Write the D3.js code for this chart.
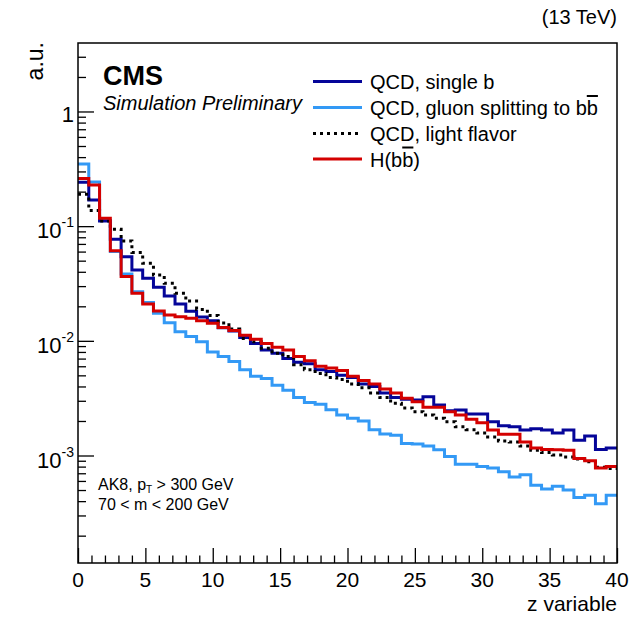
<!DOCTYPE html>
<html>
<head>
<meta charset="utf-8">
<script src="https://cdn.jsdelivr.net/npm/d3@7"></script>
<style>
  html, body { margin: 0; padding: 0; background: #fff; }
  svg { display: block; font-family: "Liberation Sans", Arial, Helvetica, sans-serif; }
</style>
</head>
<body>
<svg id="chart" width="630" height="617"></svg>
<script>
// ---------------- data ----------------
const binWidth = 0.8;
const xRange = [0, 40];
const yRange = [1.155e-4, 3.955];

const singleB = [
  0.241, 0.169, 0.111, 0.0768, 0.0542, 0.0415, 0.0351, 0.0293, 0.0246, 0.0210,
  0.0181, 0.0161, 0.0150, 0.0130, 0.0122, 0.0107, 0.0095, 0.0083, 0.0078, 0.0070,
  0.0065, 0.0063, 0.0056, 0.0054, 0.0050, 0.0048, 0.0042, 0.0040, 0.0035, 0.0032,
  0.0031, 0.00305, 0.00326, 0.00276, 0.00245, 0.00249, 0.0023, 0.0023, 0.00197, 0.00182,
  0.00178, 0.00167, 0.00171, 0.00167, 0.00157, 0.00167, 0.00136, 0.00148, 0.00113, 0.00116
];
const gluonSplitting = [
  0.348, 0.243, 0.112, 0.060, 0.0383, 0.0268, 0.0216, 0.0174, 0.0144, 0.0120,
  0.0109, 0.0098, 0.0080, 0.0073, 0.0066, 0.0056, 0.0049, 0.0047, 0.0041, 0.0037,
  0.0032, 0.0029, 0.0028, 0.0025, 0.00225, 0.00211, 0.0020, 0.00168, 0.00154, 0.0015,
  0.00127, 0.00126, 0.00121, 0.00112, 0.00098, 0.00084, 0.00084, 0.0008, 0.00078, 0.00072,
  0.00065, 0.00068, 0.00055, 0.00051, 0.00054, 0.0005, 0.00043, 0.00045, 0.00038, 0.00045
];
const lightFlavor = [
  0.190, 0.137, 0.111, 0.094, 0.0743, 0.059, 0.0474, 0.0375, 0.0317, 0.0260,
  0.0222, 0.0188, 0.0166, 0.0143, 0.0127, 0.0105, 0.0098, 0.0086, 0.0078, 0.0073,
  0.0062, 0.0056, 0.0052, 0.0048, 0.0046, 0.0042, 0.0039, 0.0035, 0.0032, 0.00285,
  0.0026, 0.00241, 0.00225, 0.00211, 0.00197, 0.00178, 0.00168, 0.00157, 0.00145, 0.00134,
  0.00131, 0.00121, 0.00111, 0.00106, 0.00101, 0.00097, 0.00093, 0.00088, 0.00079, 0.00077
];
const hbb = [
  0.260, 0.229, 0.117, 0.061, 0.0363, 0.0260, 0.0210, 0.0182, 0.0168, 0.0162,
  0.0157, 0.0150, 0.0142, 0.0131, 0.0123, 0.0112, 0.0103, 0.0095, 0.0088, 0.0083,
  0.0073, 0.0067, 0.0060, 0.0058, 0.0055, 0.0049, 0.0045, 0.0042, 0.0038, 0.0035,
  0.00315, 0.00295, 0.00263, 0.00263, 0.00241, 0.00225, 0.00207, 0.00193, 0.00167, 0.00153,
  0.00153, 0.00131, 0.00116, 0.00113, 0.00112, 0.00111, 0.00094, 0.0009, 0.00078, 0.0008
];

const xTicksMajor = [0, 5, 10, 15, 20, 25, 30, 35, 40];
const yDecades = [1, 0.1, 0.01, 0.001];
const yDecadeExp = ["0", "-1", "-2", "-3"];

const seriesNames = ["QCD, single b", "QCD, gluon splitting to b", "QCD, light flavor", "H(b"];

// ---------------- layout ----------------
const svg = d3.select("#chart");
const L = 78, R = 617, T = 43, B = 563;

const x = d3.scaleLinear().domain(xRange).range([L, R]);
const y = d3.scaleLog().domain(yRange).range([B, T]);

svg.append("defs").append("clipPath").attr("id", "clip")
  .append("rect").attr("x", L).attr("y", T).attr("width", R - L).attr("height", B - T);

const series = [
  { values: gluonSplitting, color: "#3399f5", dash: null },
  { values: singleB, color: "#050599", dash: null },
  { values: lightFlavor, color: "#000000", dash: "3,4" },
  { values: hbb, color: "#d40000", dash: null }
];

const line = d3.line()
  .x(d => x(d[0]))
  .y(d => y(d[1]))
  .curve(d3.curveStepAfter);

const g = svg.append("g").attr("clip-path", "url(#clip)");
series.forEach(s => {
  const pts = s.values.map((v, i) => [i * binWidth, v]);
  pts.push([s.values.length * binWidth, s.values[s.values.length - 1]]);
  g.append("path")
    .attr("d", line(pts))
    .attr("fill", "none")
    .attr("stroke", s.color)
    .attr("stroke-width", 3)
    .attr("stroke-dasharray", s.dash)
    .attr("stroke-linejoin", "miter");
});

// ---------------- axes ----------------
const xAxis = d3.axisTop(x).tickValues(xTicksMajor).tickSize(15).tickFormat("");
svg.append("g").attr("transform", `translate(0,${B})`).call(xAxis)
  .call(a => a.select(".domain").remove())
  .call(a => a.selectAll("line").attr("stroke", "#000").attr("stroke-width", 1.3));
const xMinor = d3.range(0, 41, 1).filter(v => v % 5 !== 0);
const xAxisMinor = d3.axisTop(x).tickValues(xMinor).tickSize(7.5).tickFormat("");
svg.append("g").attr("transform", `translate(0,${B})`).call(xAxisMinor)
  .call(a => a.select(".domain").remove())
  .call(a => a.selectAll("line").attr("stroke", "#000").attr("stroke-width", 1.3));

svg.append("g").selectAll("text").data(xTicksMajor).join("text")
  .attr("x", d => x(d)).attr("y", 587)
  .attr("text-anchor", "middle")
  .attr("font-size", 21)
  .text(d => d);

const yAxis = d3.axisRight(y).tickValues(yDecades).tickSize(16).tickFormat("");
svg.append("g").attr("transform", `translate(${L},0)`).call(yAxis)
  .call(a => a.select(".domain").remove())
  .call(a => a.selectAll("line").attr("stroke", "#000").attr("stroke-width", 1.3));
const yMinorVals = [];
[1e-4, 1e-3, 1e-2, 1e-1, 1].forEach(dec => {
  for (let k = 2; k <= 9; k++) {
    const v = dec * k;
    if (v >= yRange[0] && v <= yRange[1]) yMinorVals.push(v);
  }
});
const yAxisMinor = d3.axisRight(y).tickValues(yMinorVals).tickSize(8).tickFormat("");
svg.append("g").attr("transform", `translate(${L},0)`).call(yAxisMinor)
  .call(a => a.select(".domain").remove())
  .call(a => a.selectAll("line").attr("stroke", "#000").attr("stroke-width", 1.3));

yDecades.forEach((v, i) => {
  const yy = y(v);
  if (yDecadeExp[i] === "0") {
    svg.append("text").attr("x", 74).attr("y", yy + 11)
      .attr("text-anchor", "end").attr("font-size", 22).text("1");
  } else {
    const t = svg.append("text").attr("x", 74).attr("y", yy + 12)
      .attr("text-anchor", "end").attr("font-size", 22);
    t.append("tspan").text("10");
    t.append("tspan").attr("font-size", 14).attr("dy", -11).text(yDecadeExp[i]);
  }
});

svg.append("rect").attr("x", L).attr("y", T).attr("width", R - L).attr("height", B - T)
  .attr("fill", "none").attr("stroke", "#000").attr("stroke-width", 1.5);

svg.append("text").attr("x", R).attr("y", 611).attr("text-anchor", "end")
  .attr("font-size", 21).text("z variable");
svg.append("text").attr("transform", `translate(43,42) rotate(-90)`)
  .attr("text-anchor", "end").attr("font-size", 23).text("a.u.");

svg.append("text").attr("x", R).attr("y", 23.5).attr("text-anchor", "end")
  .attr("font-size", 20).text("(13 TeV)");

svg.append("text").attr("x", 103).attr("y", 85).attr("font-size", 27)
  .attr("font-weight", "bold").text("CMS");
svg.append("text").attr("x", 103).attr("y", 110).attr("font-size", 20)
  .attr("font-style", "italic").text("Simulation Preliminary");

const sel1 = svg.append("text").attr("x", 98).attr("y", 490).attr("font-size", 16);
sel1.append("tspan").text("AK8, p");
sel1.append("tspan").attr("font-size", 10).attr("dy", 2.5).text("T");
sel1.append("tspan").attr("dy", -2.5).text(" > 300 GeV");
svg.append("text").attr("x", 98).attr("y", 510).attr("font-size", 16).text("70 < m < 200 GeV");

const legendItems = [
  { label: seriesNames[0], bar: false, color: "#050599", dash: null },
  { label: seriesNames[1], bar: true, tail: "", color: "#3399f5", dash: null },
  { label: seriesNames[2], bar: false, color: "#000000", dash: "3,4" },
  { label: seriesNames[3], bar: true, tail: ")", color: "#d40000", dash: null }
];
const legendY = [81.5, 107.5, 133.5, 159];
legendItems.forEach((it, i) => {
  const yy = legendY[i];
  svg.append("line").attr("x1", 313).attr("x2", 362).attr("y1", yy).attr("y2", yy)
    .attr("stroke", it.color).attr("stroke-width", 3).attr("stroke-dasharray", it.dash);
  const t = svg.append("text").attr("x", 370).attr("y", yy + 7.5).attr("font-size", 20);
  t.append("tspan").text(it.label);
  if (it.bar) {
    t.append("tspan").style("text-decoration", "overline").text("b");
    if (it.tail) t.append("tspan").text(it.tail);
  }
});
</script>
</body>
</html>
